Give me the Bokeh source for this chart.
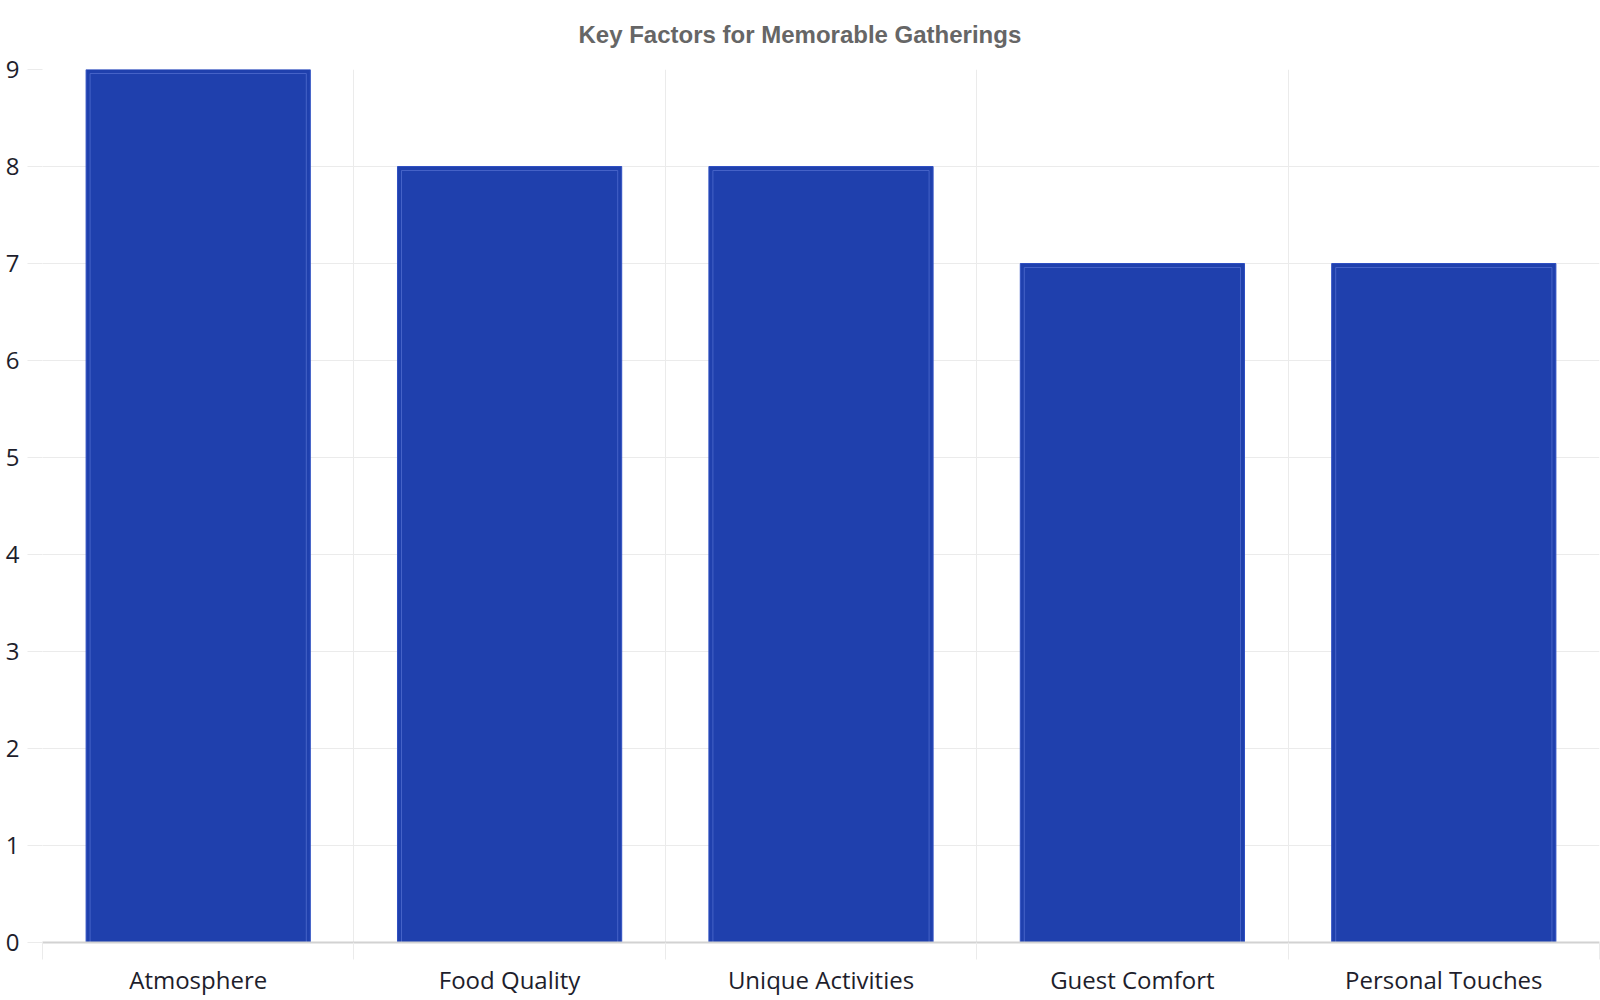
import numpy as np
from bokeh.plotting import figure
from bokeh.models import Range1d, FixedTicker, ColumnDataSource
from bokeh.embed import file_html
from bokeh.resources import INLINE

categories = ["Atmosphere", "Food Quality", "Unique Activities", "Guest Comfort", "Personal Touches"]
scores = [9, 8, 8, 7, 7]
y_ticks = [0, 1, 2, 3, 4, 5, 6, 7, 8, 9]

n = len(categories)
centers = [i + 0.5 for i in range(n)]
bounds = [float(i) for i in range(n + 1)]

BAR_W = 0.72
W, H = 1600, 1000
ML, MB, MT, MR = 42, 58, 69, 1

p = figure(width=W, height=H, output_backend="svg", toolbar_location=None,
           x_range=Range1d(0, n), y_range=Range1d(0, max(y_ticks)),
           title="Key Factors for Memorable Gatherings")
p.min_border_left = ML
p.min_border_right = MR
p.min_border_top = MT
p.min_border_bottom = MB
p.outline_line_color = None
p.background_fill_color = "white"
p.border_fill_color = "white"

p.title.align = "left"
p.title.offset = 536
p.title.text_font = "Liberation Sans"
p.title.text_font_size = "24px"
p.title.text_font_style = "bold"
p.title.text_color = "#666666"
p.title.standoff = 39
p.title.vertical_align = "top"

src = ColumnDataSource(dict(x=centers, top=scores))
p.vbar(x="x", top="top", width=BAR_W, source=src,
       fill_color="#1f40ad", line_color="#2f4fc2", line_width=1)

# faint inner outline of each bar
frame_w = W - ML - MR
frame_h = H - MT - MB
ix = 4.0 * n / frame_w
iy = 4.0 * max(y_ticks) / frame_h
inner = ColumnDataSource(dict(
    left=[c - BAR_W / 2 + ix for c in centers],
    right=[c + BAR_W / 2 - ix for c in centers],
    top=[s - iy for s in scores],
    bottom=[0 for _ in scores]))
p.quad(left="left", right="right", top="top", bottom="bottom", source=inner,
       fill_color=None, line_color="#5670d2", line_alpha=0.7, line_width=1)

GRID = "#ebebeb"
TXT = "#1e1e2c"

# x axis
xa = p.xaxis[0]
xa.ticker = FixedTicker(ticks=centers, minor_ticks=bounds)
xa.major_label_overrides = {c: name for c, name in zip(centers, categories)}
xa.major_tick_line_color = None
xa.major_tick_out = 0
xa.major_tick_in = 0
xa.minor_tick_out = 17
xa.minor_tick_in = 0
xa.minor_tick_line_color = GRID
xa.axis_line_color = "#d2d2d2"
xa.axis_line_width = 2
xa.major_label_text_font = "Open Sans"
xa.major_label_text_font_size = "24px"
xa.major_label_text_color = TXT
xa.major_label_standoff = 3

# y axis
ya = p.yaxis[0]
ya.ticker = FixedTicker(ticks=y_ticks)
ya.axis_line_color = None
ya.major_tick_out = 15
ya.major_tick_in = 0
ya.major_tick_line_color = GRID
ya.minor_tick_line_color = None
ya.major_label_text_font = "Open Sans"
ya.major_label_text_font_size = "24px"
ya.major_label_text_color = TXT
ya.major_label_standoff = 8

p.xgrid.ticker = FixedTicker(ticks=bounds)
p.xgrid.grid_line_color = GRID
p.ygrid.ticker = FixedTicker(ticks=y_ticks)
p.ygrid.grid_line_color = GRID
p.xgrid.level = "underlay"
p.ygrid.level = "underlay"

open("out.html", "w").write(file_html(p, INLINE))
